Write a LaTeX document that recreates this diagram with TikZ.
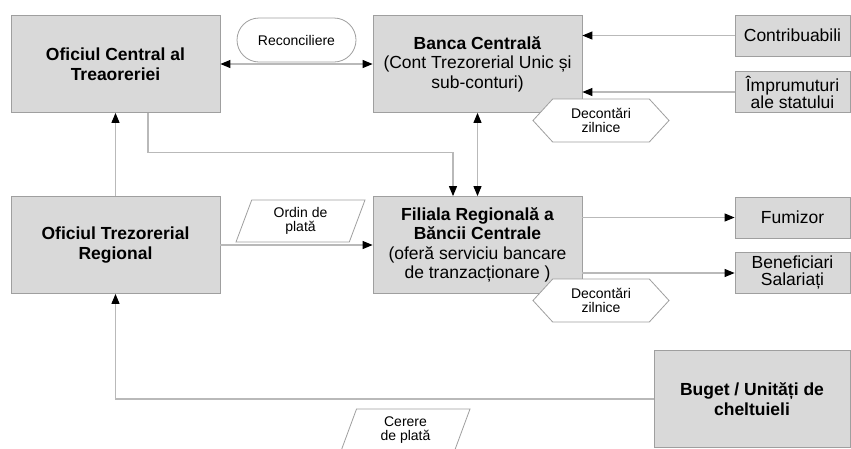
\documentclass[tikz,border=0pt]{standalone}
\usepackage{fontspec}
\setmainfont{Liberation Sans}
\usetikzlibrary{arrows.meta,shapes.geometric,shapes.misc,shapes.symbols,calc,positioning}
\colorlet{colorBox}{gray!30}
\colorlet{colorEdge}{gray!75}
\colorlet{colorFlow}{gray!55}
\tikzset{
   every path/.style={>={Triangle[length=10pt,width=8pt,black]}},
   flow/.style={->,draw=colorFlow,line width=1.1pt},
   dflow/.style={<->,draw=colorFlow,line width=1.1pt},
}

\begin{document}
\begin{tikzpicture}[x=1pt,y=-1pt,
    box/.style={draw=colorEdge, fill=colorBox, line width=0.8pt, inner sep=2pt, align=center,
                font=\fontsize{17.5}{19.5}\selectfont},
    bigbox/.style={box, minimum width=209pt, minimum height=97pt},
    smallbox/.style={box, minimum width=115pt, minimum height=41pt, font=\fontsize{17.5}{17}\selectfont},
    tag/.style={draw=colorEdge, fill=white, line width=0.8pt, align=center, inner sep=1pt,
                font=\fontsize{14}{14.5}\selectfont},
    hexa/.style={tag, signal, signal to=west and east, signal pointer angle=95,
                 minimum width=136pt, minimum height=43pt},
    slant/.style={tag, trapezium, trapezium left angle=62, trapezium right angle=118,
                  minimum width=129pt, minimum height=42pt, trapezium stretches body},
]
\useasboundingbox (0,0) rectangle (851,448);

% ------------------------------------------------------------
% Treasury side
% ------------------------------------------------------------
\node[bigbox] (oct) at (115.5,64) {\textbf{Oficiul Central al}\\\textbf{Treaoreriei}};
\node[bigbox] (otr) at (115.5,245) {\textbf{Oficiul Trezorerial}\\\textbf{Regional}};

% ------------------------------------------------------------
% Central bank and its branch
% ------------------------------------------------------------
\node[bigbox] (bc)  at (477.5,64) {\textbf{Banca Central\u{a}}\\(Cont Trezorerial Unic și\\sub-conturi)};
\node[bigbox] (fil) at (477.5,245) {\textbf{Filiala Regional\u{a} a}\\\textbf{B\u{a}ncii Centrale}\\(ofer\u{a} serviciu bancare\\de tranzacționare )};

% ------------------------------------------------------------
% Outside parties
% ------------------------------------------------------------
\node[smallbox] (contrib) at (792.5,35.5) {Contribuabili};
\node[smallbox] (impr)    at (792.5,92)   {Împrumuturi\\ale statului};
\node[smallbox] (furn)    at (792.5,217.5) {Fumizor};
\node[smallbox] (benef)   at (792.5,273)  {Beneficiari\\Salariați};
\node[bigbox, minimum width=196pt] (buget) at (752,399) {\textbf{Buget / Unități de}\\\textbf{cheltuieli}};

% flows
\draw[dflow] (oct) -- (bc);
\draw[flow] (contrib.west) -- (contrib.west -| bc.east);
\draw[flow] (impr.west) -- (impr.west -| bc.east);
\draw[dflow] (bc) -- (fil);
\draw[flow] ([xshift=32.5pt]oct.south) -- ++(0,40) -| ([xshift=-24.5pt]fil.north);
\draw[flow] (otr) -- (oct);
\draw[flow] (otr) -- (fil);
\draw[flow] (fil.east |- furn) -- (furn.west);
\draw[flow] (fil.east |- benef) -- (benef.west);
\draw[flow] (buget.west) -| (otr.south);

% labels on the flows
\node[tag, rounded rectangle, minimum width=121pt, minimum height=44pt] (recon) at (296.5,40) {Reconciliere};
\node[hexa] (dec1) at (601,120.5) {Decont\u{a}ri\\zilnice};
\node[hexa] (dec2) at (601,300.5) {Decont\u{a}ri\\zilnice};
\node[slant] (ordin)  at (300.5,221) {Ordin de\\plat\u{a}};
\node[slant] (cerere) at (405.5,430) {Cerere\\de plat\u{a}};
\end{tikzpicture}
\end{document}
